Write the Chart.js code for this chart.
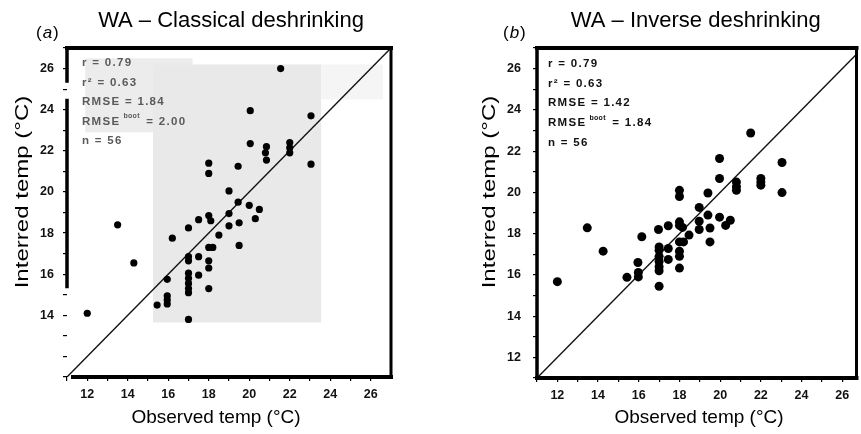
<!DOCTYPE html>
<html><head><meta charset="utf-8">
<script src="https://cdn.jsdelivr.net/npm/chart.js@4"></script>
<style>
html,body{margin:0;padding:0;background:#fff;overflow:hidden;width:861px;height:434px}
canvas{position:absolute;top:0}
</style></head><body>
<canvas id="ca" width="430" height="434" style="left:0"></canvas>
<canvas id="cb" width="431" height="434" style="left:430px"></canvas>
<script>
// ---- Panel (a): WA – Classical deshrinking ----
const obsA = [12.0,13.5,14.3,15.45,15.95,15.95,15.95,15.95,16.2,17.0,17.0,17.0,17.0,17.0,17.0,17.0,17.0,17.0,
  17.5,17.5,17.5,18.0,18.0,18.0,18.1,18.0,18.2,18.0,18.0,18.0,18.5,19.0,19.0,19.0,19.45,19.45,19.5,19.5,
  20.05,20.05,20.0,20.3,20.5,20.85,20.8,20.85,21.55,22.0,22.0,22.0,23.05,23.05];
const infA = [14.1,18.4,16.55,14.5,15.75,14.95,14.75,14.55,17.75,18.25,16.85,16.65,16.05,15.8,15.55,15.3,15.1,13.8,
  18.65,16.85,15.95,21.4,20.9,18.85,18.6,17.3,17.3,16.65,16.3,15.3,17.9,20.05,18.95,18.35,21.25,19.5,18.5,17.4,
  23.95,22.35,19.35,18.7,19.15,22.2,21.9,21.55,26.0,22.4,22.15,21.9,23.7,21.35];
const statsA = ['r = 0.79','r² = 0.63','RMSE = 1.84','RMSE|boot| = 2.00','n = 56'];

// ---- Panel (b): WA – Inverse deshrinking ----
const obsB = [12.0,13.47,14.25,15.42,15.96,15.98,15.98,16.15,16.97,17.0,17.0,17.0,17.0,17.0,17.0,17.0,
  17.45,17.45,17.45,18.0,18.0,18.0,18.0,18.15,18.0,18.2,18.0,18.0,18.0,18.47,18.97,18.97,18.97,19.4,19.4,
  19.5,19.5,19.97,19.97,19.97,20.27,20.5,20.8,20.8,20.8,21.5,22.0,22.0,22.0,23.04,23.04];
const infB = [15.67,18.28,17.15,15.88,16.6,16.12,15.9,17.85,18.2,17.35,17.2,16.9,16.65,16.4,16.2,15.45,
  18.38,17.28,16.75,20.1,19.8,18.57,18.4,18.3,17.6,17.6,17.15,16.9,16.33,17.93,19.27,18.6,18.2,19.97,18.9,
  18.27,17.6,21.64,20.67,18.8,18.4,18.65,20.5,20.27,20.1,22.88,20.67,20.5,20.35,21.45,19.99];
const statsB = ['r = 0.79','r² = 0.63','RMSE = 1.42','RMSE|boot| = 1.84','n = 56'];

// ---- Tick labels ----
const xTickLabels = [12,14,16,18,20,22,24,26];
const yTickLabelsA = [14,16,18,20,22,24,26];
const yTickLabelsB = [12,14,16,18,20,22,24,26];
const oneToOne = [11, 27];

const FONT = '"Liberation Sans", Arial, Helvetica, sans-serif';

function txt(ctx, s, x, y, font, color, align, base, spacing) {
  ctx.save();
  ctx.font = font; ctx.fillStyle = color; ctx.textAlign = align || 'left';
  ctx.textBaseline = base || 'alphabetic';
  ctx.letterSpacing = spacing || '0px';
  ctx.fillText(s, x, y);
  const w = ctx.measureText(s).width;
  ctx.restore();
  return w;
}

function makePanel(id, P) {
  const pts = P.obs.map((v, i) => ({x: v, y: P.inf[i]}));
  const textPlugin = {
    id: 'panelText',
    beforeDatasetsDraw(chart) {
      if (!P.patches) return;
      const {ctx, scales: {x, y}} = chart;
      ctx.save();
      P.patches.forEach(p => {
        ctx.fillStyle = p.c;
        const x0 = x.getPixelForValue(p.x0), x1 = x.getPixelForValue(p.x1);
        const y0 = y.getPixelForValue(p.y0), y1 = y.getPixelForValue(p.y1);
        ctx.fillRect(x0, y1, x1 - x0, y0 - y1);
      });
      ctx.restore();
    },
    afterDraw(chart) {
      const {ctx, chartArea: a, scales: {x, y}} = chart;
      // frame
      ctx.save();
      ctx.strokeStyle = '#000'; ctx.lineCap = 'square';
      ctx.lineWidth = 4;
      ctx.beginPath();
      ctx.moveTo(a.left + P.bottomStart, a.bottom); ctx.lineTo(a.right, a.bottom);
      ctx.moveTo(a.left, a.top); ctx.lineTo(a.right, a.top);
      ctx.stroke();
      ctx.lineWidth = 3;
      ctx.beginPath(); ctx.moveTo(a.right, a.top); ctx.lineTo(a.right, a.bottom); ctx.stroke();
      ctx.lineWidth = 3.5;
      ctx.beginPath();
      P.leftSegs.forEach(s => {
        ctx.moveTo(a.left, y.getPixelForValue(s[0])); ctx.lineTo(a.left, y.getPixelForValue(s[1]));
      });
      ctx.stroke();
      ctx.restore();
      // title and tag
      const cx = (a.left + a.right) / 2;
      txt(ctx, P.title, cx + P.titleDx, 27, '22px ' + FONT, '#000', 'center');
      let tx = P.tagX;
      tx += txt(ctx, '(', tx, 38, '17px ' + FONT, '#000');
      tx += txt(ctx, P.tag, tx + 1, 38, 'italic 17px ' + FONT, '#000') + 1;
      txt(ctx, ')', tx + 1, 38, '17px ' + FONT, '#000');
      // axis titles
      txt(ctx, 'Observed temp (°C)', P.xTitleX, 423, '19px ' + FONT, '#000', 'center');
      ctx.save();
      ctx.translate(P.yTitleX, 192);
      ctx.rotate(-Math.PI / 2);
      ctx.scale(1.3, 1);
      txt(ctx, 'Interred temp (°C)', 0, 0, '18.5px ' + FONT, '#000', 'center');
      ctx.restore();
      // stats
      P.stats.forEach((s, i) => {
        const yy = P.statsY + i * P.statsDy;
        const f = 'bold 11.5px ' + FONT;
        if (s.includes('|')) {
          const parts = s.split('|');
          let xx = P.statsX;
          xx += txt(ctx, parts[0], xx, yy, f, P.statsColor, 'left', 'middle', '1.3px');
          xx += 3;
          xx += txt(ctx, parts[1], xx, yy - 5, 'bold 7px ' + FONT, P.statsColor, 'left', 'middle', '0.3px');
          txt(ctx, parts[2], xx + 2, yy, f, P.statsColor, 'left', 'middle', '1.3px');
        } else {
          txt(ctx, s, P.statsX, yy, f, P.statsColor, 'left', 'middle', '1.3px');
        }
      });
    }
  };
  const tickFont = {family: FONT, size: 12.5, weight: 'bold'};
  return new Chart(document.getElementById(id), {
    type: 'scatter',
    data: {datasets: [
      {data: pts, pointRadius: P.r, pointHoverRadius: P.r, backgroundColor: '#000', borderColor: '#000', borderWidth: 0},
      {type: 'line', data: oneToOne.map(v => ({x: v, y: v})), borderColor: '#111', borderWidth: 1.4, pointRadius: 0, fill: false}
    ]},
    options: {
      responsive: false, animation: false, events: [],
      layout: {padding: {left: 0, top: 48, right: P.padRight, bottom: 0}},
      plugins: {legend: {display: false}, tooltip: {enabled: false}, title: {display: false}},
      scales: {
        x: {
          type: 'linear', min: 11, max: P.xMax,
          afterBuildTicks: s => { const t = []; for (let v = 11; v <= 26; v++) t.push({value: v}); s.ticks = t; },
          afterFit: s => { s.height = P.bottomH; },
          ticks: {autoSkip: false, maxRotation: 0, padding: 6, color: '#111', font: tickFont,
            callback: v => xTickLabels.includes(v) ? String(v) : ''},
          grid: {drawOnChartArea: false, drawTicks: true, tickLength: 4, color: '#000', lineWidth: 1.2},
          border: {display: false}
        },
        y: {
          type: 'linear', min: 11, max: 27,
          afterBuildTicks: s => { const t = []; for (let v = 11; v <= 27; v++) t.push({value: v}); s.ticks = t; },
          afterFit: s => { s.width = P.yW; },
          ticks: {autoSkip: false, padding: P.tickPad, color: '#111', font: tickFont,
            callback: v => P.yLabels.includes(v) ? String(v) : ''},
          grid: {drawOnChartArea: false, drawTicks: true, tickLength: 4, color: '#000', lineWidth: 1.2},
          border: {display: false}
        }
      }
    },
    plugins: [textPlugin]
  });
}

makePanel('ca', {
  obs: obsA, inf: infA, stats: statsA, yLabels: yTickLabelsA,
  xMax: 27, yW: 67, padRight: 39, bottomH: 57, r: 3.6, tickPad: 9,
  title: 'WA – Classical deshrinking', titleDx: 2, tag: 'a', tagX: 36,
  xTitleX: 216, yTitleX: 28, statsX: 82, statsY: 63, statsDy: 19.5, statsColor: '#5a5a5a',
  bottomStart: 6, leftSegs: [[27, 25.4], [24.45, 15.4]],
  patches: [
    {x0: 11.9, x1: 17.2, y0: 22.9, y1: 26.5, c: '#ececec'},
    {x0: 15.25, x1: 23.55, y0: 13.65, y1: 26.2, c: '#e9e9e9'},
    {x0: 23.55, x1: 26.6, y0: 24.5, y1: 26.2, c: '#f5f5f5'}
  ]
});
makePanel('cb', {
  obs: obsB, inf: infB, stats: statsB, yLabels: yTickLabelsB,
  xMax: 26.7, yW: 107, padRight: 1, bottomH: 56, r: 4.5, tickPad: 12,
  title: 'WA – Inverse deshrinking', titleDx: -1, tag: 'b', tagX: 73,
  xTitleX: 269, yTitleX: 65, statsX: 118, statsY: 64, statsDy: 19.6, statsColor: '#111',
  bottomStart: 0, leftSegs: [[27, 11]], patches: null
});
</script>
</body></html>
